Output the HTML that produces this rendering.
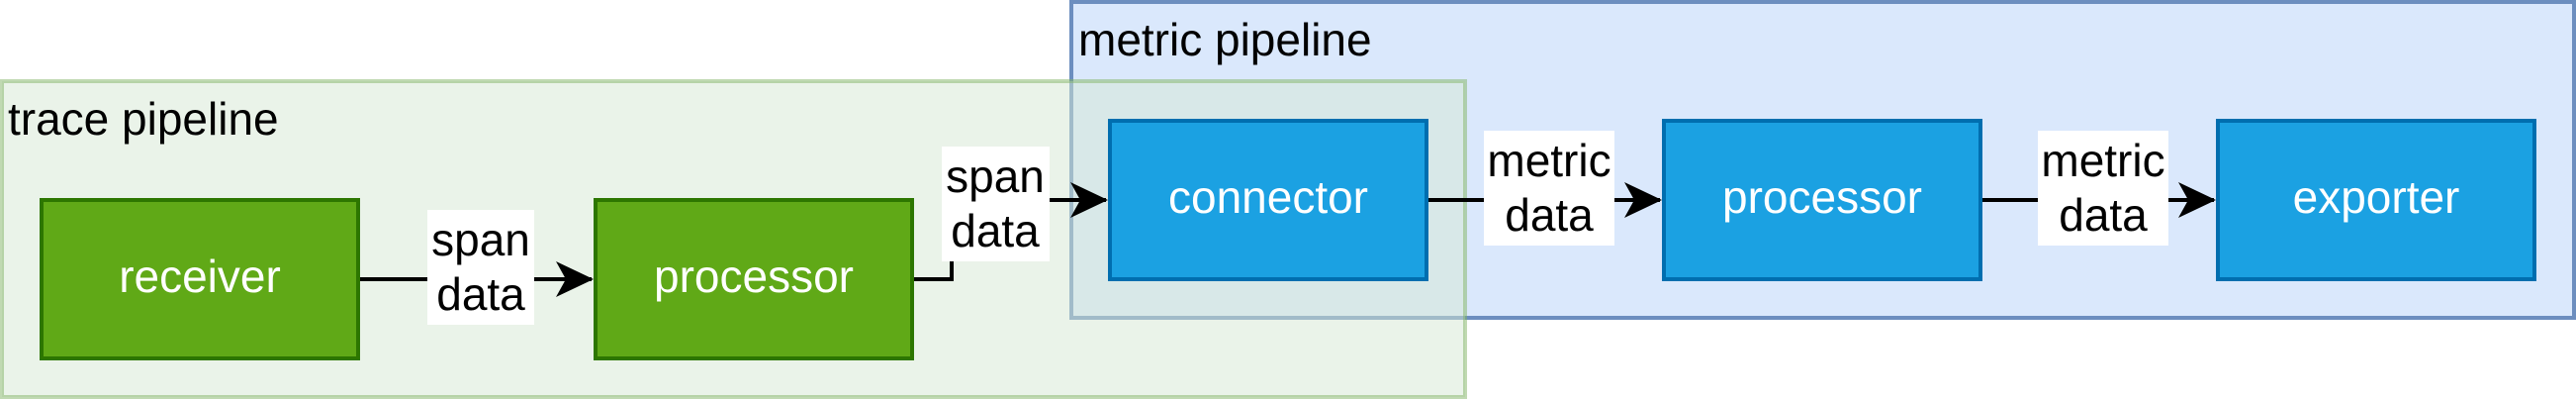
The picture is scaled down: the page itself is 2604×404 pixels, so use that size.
<!DOCTYPE html>
<html><head><meta charset="utf-8"><style>
html,body{margin:0;padding:0;background:#fff;}
svg{display:block;}
text{font-family:"Liberation Sans",Arial,sans-serif;font-size:46px;}
</style></head><body>
<svg width="2604" height="404" viewBox="0 0 2604 404" xmlns="http://www.w3.org/2000/svg">
<defs><marker id="a" viewBox="0 0 20 20" refX="18" refY="10" markerWidth="20" markerHeight="20" markerUnits="userSpaceOnUse" orient="auto"><path d="M0,0 L20,10 L0,20 L5,10 Z" fill="#000"/></marker>
<marker id="b" viewBox="0 0 40 40" refX="36" refY="20" markerWidth="40" markerHeight="40" markerUnits="userSpaceOnUse" orient="auto"><path d="M0,2 L38,20 L0,38 L10,20 Z" fill="#000"/></marker></defs>
<!-- metric pipeline -->
<rect x="1083" y="2" width="1519" height="319" fill="#dae8fc" stroke="#6c8ebf" stroke-width="4"/>
<text x="1090" y="56">metric pipeline</text>
<!-- trace pipeline -->
<rect x="2" y="82" width="1479" height="319" fill="#d5e8d4" fill-opacity="0.5" stroke="#82b366" stroke-opacity="0.5" stroke-width="4"/>
<text x="8" y="136">trace pipeline</text>
<!-- nodes -->
<rect x="42" y="202" width="320" height="160" fill="#60a917" stroke="#2d7600" stroke-width="4"/>
<text x="202" y="295" text-anchor="middle" fill="#fff">receiver</text>
<rect x="602" y="202" width="320" height="160" fill="#60a917" stroke="#2d7600" stroke-width="4"/>
<text x="762" y="295" text-anchor="middle" fill="#fff">processor</text>
<rect x="1122" y="122" width="320" height="160" fill="#1ba1e2" stroke="#006eaf" stroke-width="4"/>
<text x="1282" y="215" text-anchor="middle" fill="#fff">connector</text>
<rect x="1682" y="122" width="320" height="160" fill="#1ba1e2" stroke="#006eaf" stroke-width="4"/>
<text x="1842" y="215" text-anchor="middle" fill="#fff">processor</text>
<rect x="2242" y="122" width="320" height="160" fill="#1ba1e2" stroke="#006eaf" stroke-width="4"/>
<text x="2402" y="215" text-anchor="middle" fill="#fff">exporter</text>
<!-- edges -->
<g stroke="#000" stroke-width="4" fill="none">
<path d="M364,282 L598,282" marker-end="url(#b)"/>
<path d="M924,282 L962,282 L962,202 L1118,202" marker-end="url(#b)"/>
<path d="M1444,202 L1678,202" marker-end="url(#b)"/>
<path d="M2004,202 L2238,202" marker-end="url(#b)"/>
</g>
<!-- labels -->
<rect x="432" y="212" width="108" height="116" fill="#fff"/>
<text x="486" y="258" text-anchor="middle">span</text><text x="486" y="313" text-anchor="middle">data</text>
<rect x="952" y="148" width="109" height="116" fill="#fff"/>
<text x="1006" y="194" text-anchor="middle">span</text><text x="1006" y="249" text-anchor="middle">data</text>
<rect x="1500" y="132" width="132" height="116" fill="#fff"/>
<text x="1566" y="178" text-anchor="middle">metric</text><text x="1566" y="233" text-anchor="middle">data</text>
<rect x="2060" y="132" width="132" height="116" fill="#fff"/>
<text x="2126" y="178" text-anchor="middle">metric</text><text x="2126" y="233" text-anchor="middle">data</text>
</svg>
</body></html>
